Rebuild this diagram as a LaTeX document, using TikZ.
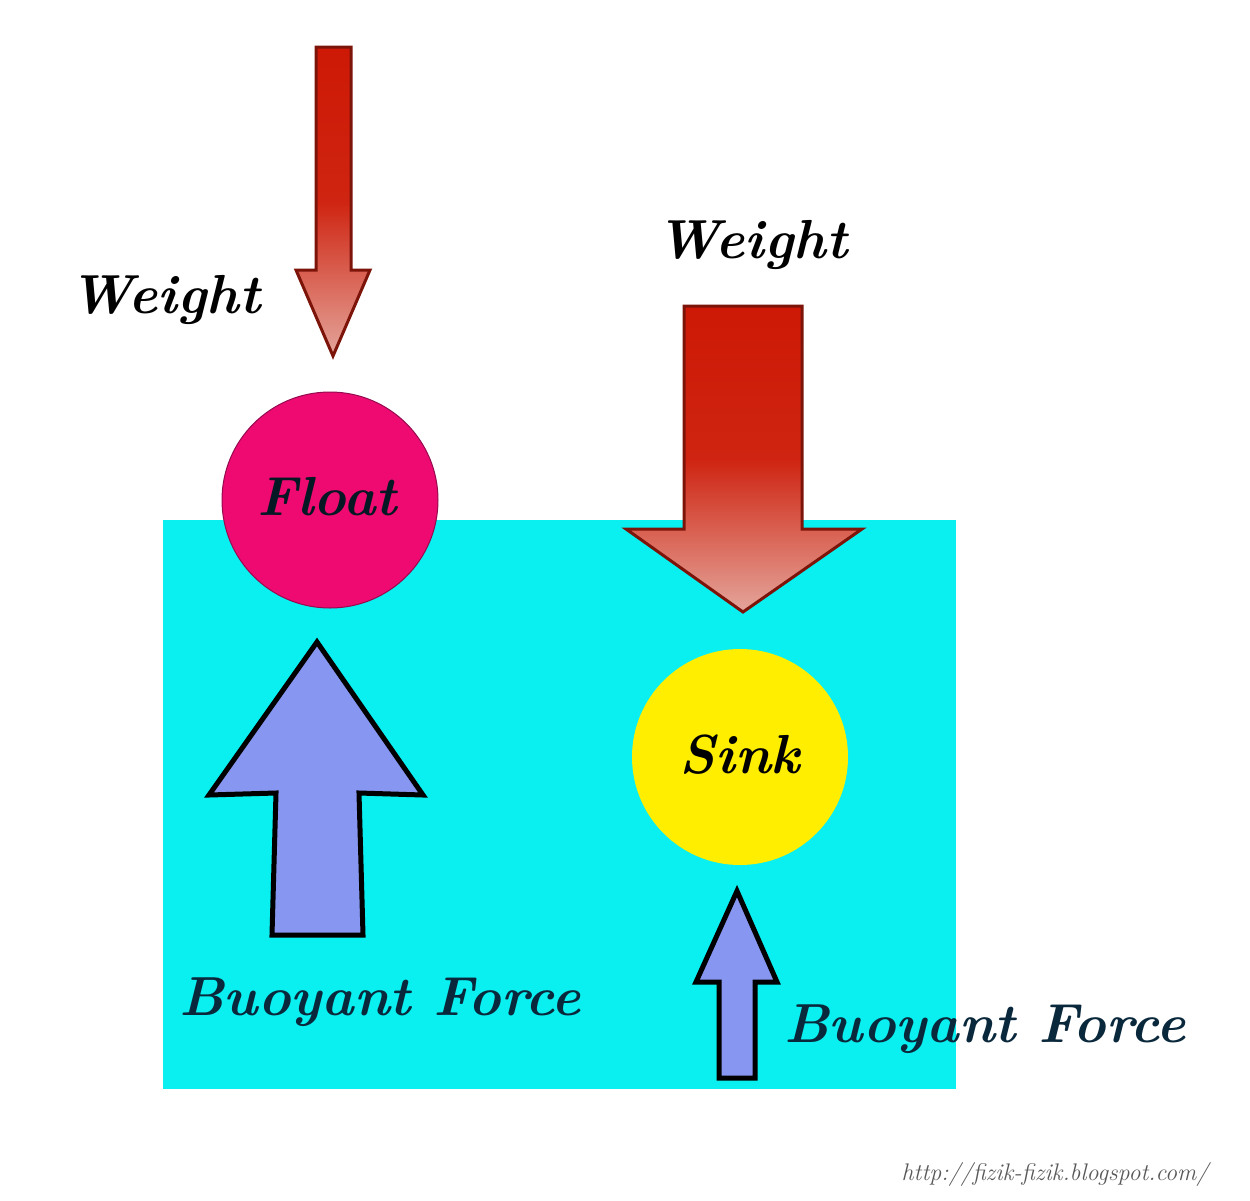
\documentclass[tikz,border=0pt]{standalone}
\usepackage{tikz}
\usetikzlibrary{positioning}
\definecolor{water}{RGB}{10,240,240}
\definecolor{floatpink}{RGB}{238,10,112}
\definecolor{floatedge}{RGB}{150,10,80}
\definecolor{sinkyellow}{RGB}{255,238,0}
\definecolor{weightred}{RGB}{205,25,5}
\definecolor{weightpink}{RGB}{228,165,155}
\definecolor{weightedge}{RGB}{125,20,10}
\definecolor{buoyblue}{RGB}{135,150,240}
\definecolor{labelnavy}{RGB}{10,40,60}

\begin{document}
\begin{tikzpicture}[x=1pt,y=-1pt,
	bigtext/.style={font=\fontsize{55}{60}\selectfont\bfseries\itshape,inner sep=0pt,anchor=base},
	weightarrow/.style={draw=weightedge,line width=3pt,line join=miter,top color=weightred,bottom color=weightpink,middle color=weightred!92!weightpink},
	buoyarrow/.style={draw=black,line width=5pt,line join=miter,fill=buoyblue},
	ball/.style={circle,minimum size=216pt,inner sep=0pt}]
	\useasboundingbox (0,0) rectangle (1250,1200);
	\fill[white] (0,0) rectangle (1250,1200);
	% water
	\fill[water] (163,520) rectangle (956,1089);
	\coordinate (f) at (330,500);
	\coordinate (s) at (740,757);
	\node[ball,fill=floatpink,draw=floatedge,line width=1pt] (FloatBall) at (f) {};
	\node[ball,fill=sinkyellow] (SinkBall) at (s) {};
	\node[bigtext,text=labelnavy!60!black] (FloatText) at (327,515) {Float};
	\node[bigtext,text=black] (SinkText) at (740,773) {Sink};
	% weight arrows
	\path[weightarrow] (316,47) -- (351,47) -- (351,270) -- (370,270) -- (333,356) -- (296,270) -- (316,270) -- cycle;
	\path[weightarrow] (684,306) -- (802,306) -- (802,529) -- (862,529) -- (743,612) -- (626,529) -- (684,529) -- cycle;
	% buoyant arrows
	\path[buoyarrow] (272,935) -- (363,935) -- (359,793) -- (423,795) -- (317,642) -- (209,795) -- (276,793) -- cycle;
	\path[buoyarrow] (719,1078) -- (755,1078) -- (755,982) -- (777,982) -- (737,891) -- (696,982) -- (719,982) -- cycle;
	% labels
	\node[bigtext] (WeightL) at (165,313) {Weight};
	\node[bigtext] (WeightR) at (752,258) {Weight};
	\node[bigtext,text=labelnavy] (BuoyL) at (380,1015) {Buoyant Force};
	\node[bigtext,text=labelnavy] (BuoyR) at (985,1042) {Buoyant Force};
	\node[inner sep=0pt,anchor=base,text=black!65,font=\fontsize{24}{28}\selectfont\itshape] (Url) at (1055,1180) {http://fizik-fizik.blogspot.com/};
\end{tikzpicture}
\end{document}
